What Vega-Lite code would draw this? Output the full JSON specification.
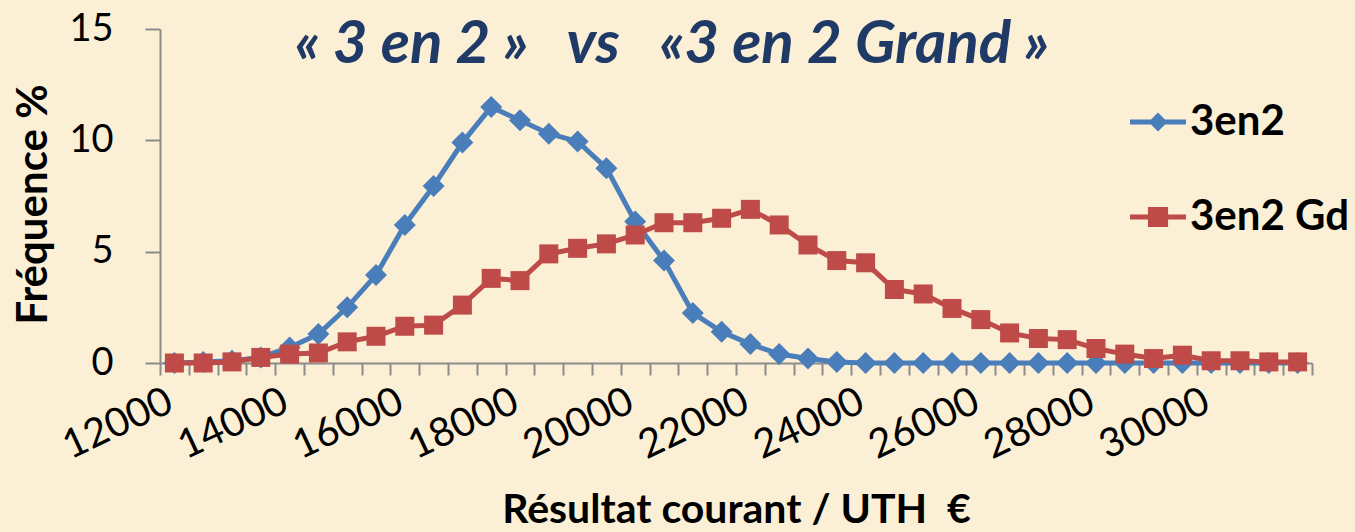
{
  "$schema": "https://vega.github.io/schema/vega-lite/v6.json",
  "width": 1152,
  "height": 334,
  "autosize": {"type": "none"},
  "padding": {"left": 160, "top": 29, "right": 43, "bottom": 169},
  "background": "#FBEFD5",
  "config": {"view": {"stroke": null}, "font": "Lato"},
  "title": {
    "text": "« 3 en 2 »\u00a0\u00a0\u00a0vs\u00a0\u00a0\u00a0«3 en 2 Grand »",
    "font": "Lato",
    "fontSize": 60,
    "fontStyle": "italic",
    "fontWeight": "bold",
    "color": "#1F3A66",
    "anchor": "middle",
    "frame": "group",
    "baseline": "alphabetic",
    "dx": -64,
    "dy": 113,
    "offset": 0
  },
  "data": {
    "values": [
      {"x": 12000, "serie": "3en2", "freq": 0},
      {"x": 12500, "serie": "3en2", "freq": 0.05},
      {"x": 13000, "serie": "3en2", "freq": 0.1},
      {"x": 13500, "serie": "3en2", "freq": 0.25},
      {"x": 14000, "serie": "3en2", "freq": 0.7},
      {"x": 14500, "serie": "3en2", "freq": 1.3},
      {"x": 15000, "serie": "3en2", "freq": 2.5},
      {"x": 15500, "serie": "3en2", "freq": 3.95},
      {"x": 16000, "serie": "3en2", "freq": 6.2},
      {"x": 16500, "serie": "3en2", "freq": 7.95},
      {"x": 17000, "serie": "3en2", "freq": 9.9},
      {"x": 17500, "serie": "3en2", "freq": 11.5},
      {"x": 18000, "serie": "3en2", "freq": 10.9},
      {"x": 18500, "serie": "3en2", "freq": 10.3},
      {"x": 19000, "serie": "3en2", "freq": 9.95},
      {"x": 19500, "serie": "3en2", "freq": 8.75},
      {"x": 20000, "serie": "3en2", "freq": 6.35},
      {"x": 20500, "serie": "3en2", "freq": 4.6},
      {"x": 21000, "serie": "3en2", "freq": 2.25},
      {"x": 21500, "serie": "3en2", "freq": 1.4},
      {"x": 22000, "serie": "3en2", "freq": 0.85},
      {"x": 22500, "serie": "3en2", "freq": 0.4},
      {"x": 23000, "serie": "3en2", "freq": 0.2},
      {"x": 23500, "serie": "3en2", "freq": 0.05},
      {"x": 24000, "serie": "3en2", "freq": 0},
      {"x": 24500, "serie": "3en2", "freq": 0},
      {"x": 25000, "serie": "3en2", "freq": 0},
      {"x": 25500, "serie": "3en2", "freq": 0},
      {"x": 26000, "serie": "3en2", "freq": 0},
      {"x": 26500, "serie": "3en2", "freq": 0},
      {"x": 27000, "serie": "3en2", "freq": 0},
      {"x": 27500, "serie": "3en2", "freq": 0},
      {"x": 28000, "serie": "3en2", "freq": 0},
      {"x": 28500, "serie": "3en2", "freq": 0},
      {"x": 29000, "serie": "3en2", "freq": 0},
      {"x": 29500, "serie": "3en2", "freq": 0},
      {"x": 30000, "serie": "3en2", "freq": 0},
      {"x": 30500, "serie": "3en2", "freq": 0},
      {"x": 31000, "serie": "3en2", "freq": 0},
      {"x": 31500, "serie": "3en2", "freq": 0},
      {"x": 12000, "serie": "3en2 Gd", "freq": 0},
      {"x": 12500, "serie": "3en2 Gd", "freq": 0},
      {"x": 13000, "serie": "3en2 Gd", "freq": 0.05},
      {"x": 13500, "serie": "3en2 Gd", "freq": 0.25},
      {"x": 14000, "serie": "3en2 Gd", "freq": 0.4},
      {"x": 14500, "serie": "3en2 Gd", "freq": 0.45},
      {"x": 15000, "serie": "3en2 Gd", "freq": 0.95},
      {"x": 15500, "serie": "3en2 Gd", "freq": 1.2},
      {"x": 16000, "serie": "3en2 Gd", "freq": 1.65},
      {"x": 16500, "serie": "3en2 Gd", "freq": 1.7},
      {"x": 17000, "serie": "3en2 Gd", "freq": 2.6},
      {"x": 17500, "serie": "3en2 Gd", "freq": 3.8},
      {"x": 18000, "serie": "3en2 Gd", "freq": 3.7},
      {"x": 18500, "serie": "3en2 Gd", "freq": 4.9},
      {"x": 19000, "serie": "3en2 Gd", "freq": 5.15},
      {"x": 19500, "serie": "3en2 Gd", "freq": 5.35},
      {"x": 20000, "serie": "3en2 Gd", "freq": 5.75},
      {"x": 20500, "serie": "3en2 Gd", "freq": 6.3},
      {"x": 21000, "serie": "3en2 Gd", "freq": 6.3},
      {"x": 21500, "serie": "3en2 Gd", "freq": 6.5},
      {"x": 22000, "serie": "3en2 Gd", "freq": 6.9},
      {"x": 22500, "serie": "3en2 Gd", "freq": 6.2},
      {"x": 23000, "serie": "3en2 Gd", "freq": 5.3},
      {"x": 23500, "serie": "3en2 Gd", "freq": 4.6},
      {"x": 24000, "serie": "3en2 Gd", "freq": 4.5},
      {"x": 24500, "serie": "3en2 Gd", "freq": 3.3},
      {"x": 25000, "serie": "3en2 Gd", "freq": 3.1},
      {"x": 25500, "serie": "3en2 Gd", "freq": 2.45},
      {"x": 26000, "serie": "3en2 Gd", "freq": 1.95},
      {"x": 26500, "serie": "3en2 Gd", "freq": 1.35},
      {"x": 27000, "serie": "3en2 Gd", "freq": 1.1},
      {"x": 27500, "serie": "3en2 Gd", "freq": 1.05},
      {"x": 28000, "serie": "3en2 Gd", "freq": 0.65},
      {"x": 28500, "serie": "3en2 Gd", "freq": 0.4},
      {"x": 29000, "serie": "3en2 Gd", "freq": 0.2},
      {"x": 29500, "serie": "3en2 Gd", "freq": 0.35},
      {"x": 30000, "serie": "3en2 Gd", "freq": 0.1},
      {"x": 30500, "serie": "3en2 Gd", "freq": 0.1},
      {"x": 31000, "serie": "3en2 Gd", "freq": 0.05},
      {"x": 31500, "serie": "3en2 Gd", "freq": 0.05}
    ]
  },
  "encoding": {
    "x": {
      "field": "x",
      "type": "quantitative",
      "scale": {"domain": [11750, 31750], "nice": false, "zero": false},
      "axis": {
        "title": "Résultat courant / UTH\u00a0\u00a0€",
        "titleFont": "Lato",
        "titleFontSize": 41,
        "titleFontWeight": "bold",
        "titleColor": "#000000",
        "titlePadding": 24,
        "values": [11750, 12250, 12750, 13250, 13750, 14250, 14750, 15250, 15750, 16250, 16750, 17250, 17750, 18250, 18750, 19250, 19750, 20250, 20750, 21250, 21750, 22250, 22750, 23250, 23750, 24250, 24750, 25250, 25750, 26250, 26750, 27250, 27750, 28250, 28750, 29250, 29750, 30250, 30750, 31250, 31750],
        "labelExpr": "(datum.value + 250) % 2000 === 0 && datum.value < 31000 ? format(datum.value + 250, 'd') : ''",
        "labelOverlap": false,
        "labelFlush": false,
        "labelBound": false,
        "labelAngle": -25,
        "labelAlign": "right",
        "labelBaseline": "middle",
        "labelOffset": 10,
        "labelPadding": 24,
        "labelFont": "Lato",
        "labelFontSize": 40,
        "labelColor": "#000000",
        "tickSize": 12,
        "tickColor": "#8C8C8C",
        "tickWidth": 2,
        "domainColor": "#8C8C8C",
        "domainWidth": 2,
        "grid": false
      }
    },
    "y": {
      "field": "freq",
      "type": "quantitative",
      "scale": {"domain": [0, 15], "nice": false},
      "axis": {
        "title": "Fréquence %",
        "titleFont": "Lato",
        "titleFontSize": 42,
        "titleFontWeight": "bold",
        "titleColor": "#000000",
        "titlePadding": 13,
        "titleY": 175,
        "values": [0, 5, 10, 15],
        "labelFont": "Lato",
        "labelFontSize": 38,
        "labelColor": "#000000",
        "labelPadding": 32,
        "tickSize": 15,
        "tickColor": "#8C8C8C",
        "tickWidth": 2,
        "domainColor": "#8C8C8C",
        "domainWidth": 2,
        "grid": false
      }
    },
    "color": {
      "field": "serie",
      "type": "nominal",
      "scale": {"domain": ["3en2", "3en2 Gd"], "range": ["#4A7EBB", "#BE4B48"]},
      "legend": {
        "orient": "none",
        "legendX": 970,
        "legendY": 65,
        "title": null,
        "padding": 0,
        "labelFont": "Lato",
        "labelFontSize": 42,
        "labelFontWeight": "bold",
        "labelColor": "#000000",
        "labelOffset": 4,
        "symbolSize": 3136,
        "rowPadding": 46,
        "symbolStrokeWidth": 0,
        "encode": {
          "symbols": {
            "update": {
              "shape": {"signal": "datum.value === '3en2' ? 'M-1,-0.09L-0.25,-0.09L0,-0.34L0.25,-0.09L1,-0.09L1,0.09L0.25,0.09L0,0.34L-0.25,0.09L-1,0.09Z' : 'M-1,-0.09L-0.36,-0.09L-0.36,-0.36L0.36,-0.36L0.36,-0.09L1,-0.09L1,0.09L0.36,0.09L0.36,0.36L-0.36,0.36L-0.36,0.09L-1,0.09Z'"},
              "fill": {"signal": "datum.value === '3en2' ? '#4A7EBB' : '#BE4B48'"},
              "strokeWidth": {"value": 0},
              "opacity": {"value": 1}
            }
          }
        }
      }
    }
  },
  "layer": [
    {
      "transform": [{"filter": "datum.serie === '3en2'"}],
      "mark": {"type": "line", "strokeWidth": 5},
      "encoding": {}
    },
    {
      "transform": [{"filter": "datum.serie === '3en2'"}],
      "mark": {"type": "point", "filled": true, "opacity": 1, "size": 484, "shape": "diamond"}
    },
    {
      "transform": [{"filter": "datum.serie === '3en2 Gd'"}],
      "mark": {"type": "line", "strokeWidth": 5},
      "encoding": {}
    },
    {
      "transform": [{"filter": "datum.serie === '3en2 Gd'"}],
      "mark": {"type": "point", "filled": true, "opacity": 1, "size": 361, "shape": "square"}
    }
  ]
}
